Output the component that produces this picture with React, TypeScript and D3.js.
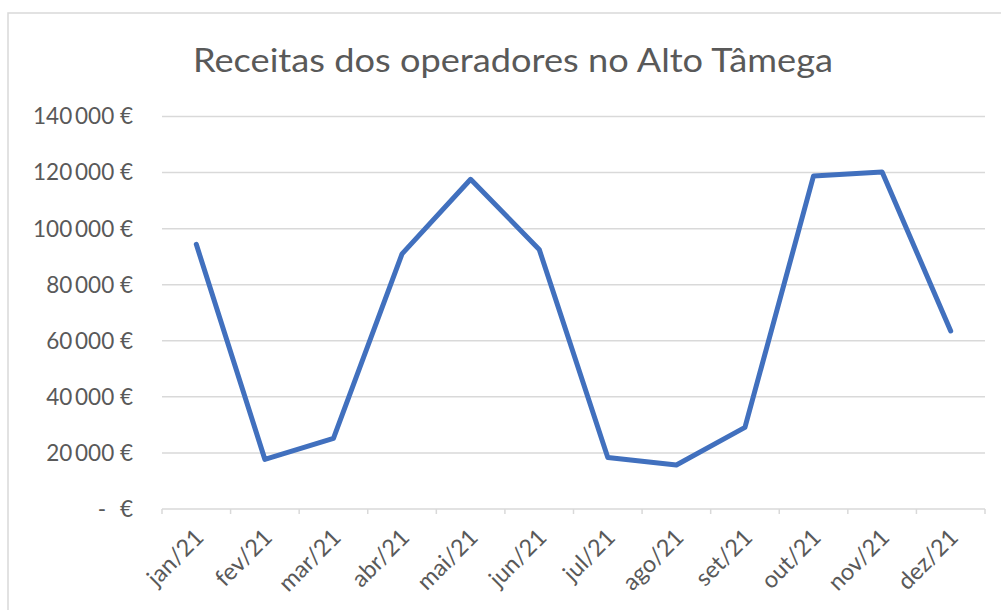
import React, { useEffect, useRef } from "react";
import * as d3 from "d3";

const months = ["jan/21", "fev/21", "mar/21", "abr/21", "mai/21", "jun/21", "jul/21", "ago/21", "set/21", "out/21", "nov/21", "dez/21"];
const receitas = [94400, 17700, 25200, 91000, 117600, 92600, 18400, 15700, 29100, 118800, 120200, 63500];
const yTicks = [0, 20000, 40000, 60000, 80000, 100000, 120000, 140000];
const title = "Receitas dos operadores no Alto Tâmega";

export default function App() {
  const ref = useRef<SVGSVGElement>(null);

  useEffect(() => {
    const svg = d3.select(ref.current);
    svg.selectAll("*").remove();

    const font = "Lato, 'Open Sans', sans-serif";
    const grey = "#595959";
    const lineGrey = "#d9d9d9";

    // chart frame (runs off the right and bottom of the picture)
    svg.append("rect")
      .attr("x", 8).attr("y", 13)
      .attr("width", 1010).attr("height", 620)
      .attr("fill", "white")
      .attr("stroke", lineGrey)
      .attr("stroke-width", 1.5);

    const x = d3.scaleBand().domain(months).range([162, 985]);
    const y = d3.scaleLinear().domain([0, 140000]).range([509, 116.5]);

    const loc = d3.formatLocale({ decimal: ",", thousands: "\u2009", grouping: [3], currency: ["", " €"] });
    const fmt = loc.format(",d");

    // title
    svg.append("text")
      .attr("x", 513).attr("y", 72)
      .attr("text-anchor", "middle")
      .attr("font-family", font)
      .attr("font-size", 32)
      .attr("fill", grey)
      .attr("textLength", 640)
      .attr("lengthAdjust", "spacingAndGlyphs")
      .text(title);

    // gridlines
    svg.append("g").selectAll("line")
      .data(yTicks.filter(d => d > 0))
      .enter().append("line")
      .attr("x1", 162).attr("x2", 985)
      .attr("y1", d => y(d)).attr("y2", d => y(d))
      .attr("stroke", lineGrey)
      .attr("stroke-width", 1.5);

    // y labels
    const yl = svg.append("g")
      .attr("font-family", font)
      .attr("font-size", 22.5)
      .attr("fill", grey);
    yl.selectAll("text")
      .data(yTicks.filter(d => d > 0))
      .enter().append("text")
      .attr("x", 133)
      .attr("y", d => y(d))
      .attr("dy", "0.35em")
      .attr("text-anchor", "end")
      .text(d => fmt(d) + " €");
    // zero is written accounting style: "-  €"
    yl.append("text").attr("x", 102).attr("y", y(0)).attr("dy", "0.35em")
      .attr("text-anchor", "middle").text("-");
    yl.append("text").attr("x", 133).attr("y", y(0)).attr("dy", "0.35em")
      .attr("text-anchor", "end").text("€");

    // x axis line with tick marks at category edges
    const edges = months.map(m => x(m) as number).concat([985]);
    svg.append("line")
      .attr("x1", 162).attr("x2", 985)
      .attr("y1", y(0)).attr("y2", y(0))
      .attr("stroke", lineGrey).attr("stroke-width", 1.5);
    svg.append("g").selectAll("line")
      .data(edges)
      .enter().append("line")
      .attr("x1", d => d).attr("x2", d => d)
      .attr("y1", y(0)).attr("y2", y(0) + 5)
      .attr("stroke", lineGrey).attr("stroke-width", 1.5);

    // x labels, rotated
    svg.append("g")
      .attr("font-family", font)
      .attr("font-size", 23.5)
      .attr("fill", grey)
      .selectAll("text")
      .data(months)
      .enter().append("text")
      .attr("transform", d => "translate(" + ((x(d) as number) + x.bandwidth() / 2 + 3) + "," + (y(0) + 24) + ") rotate(-45)")
      .attr("text-anchor", "end")
      .attr("dy", "0.35em")
      .text(d => d);

    // the line itself
    const line = d3.line<number>()
      .x((d, i) => (x(months[i]) as number) + x.bandwidth() / 2)
      .y(d => y(d));
    svg.append("path")
      .datum(receitas)
      .attr("d", line)
      .attr("fill", "none")
      .attr("stroke", "#4170BE")
      .attr("stroke-width", 5)
      .attr("stroke-linejoin", "round")
      .attr("stroke-linecap", "round");
  }, []);

  return (
    <svg ref={ref} width={1001} height={610}
      style={{ position: "absolute", left: 0, top: 0, background: "white" }} />
  );
}
